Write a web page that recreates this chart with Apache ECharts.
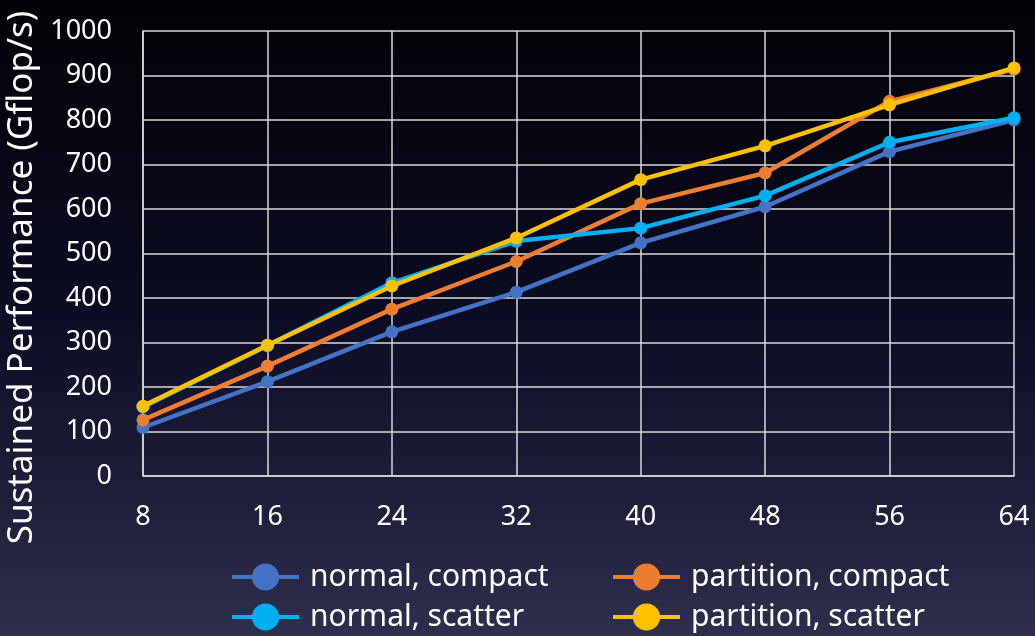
<!DOCTYPE html>
<html>
<head>
<meta charset="utf-8">
<script src="https://cdn.jsdelivr.net/npm/echarts@6/dist/echarts.min.js"></script>
<style>
html,body{margin:0;padding:0;width:1035px;height:636px;overflow:hidden;background:#000;}
#chart{width:1035px;height:636px;}
</style>
</head>
<body>
<div id="chart"></div>
<script>
const categories = ['8','16','24','32','40','48','56','64'];
const normalCompact    = [109, 212, 324, 413, 524, 605, 729, 800];
const partitionCompact = [126, 247, 375, 482, 612, 681, 842, 914];
const normalScatter    = [155, 293, 434, 528, 557, 630, 750, 805];
const partitionScatter = [157, 294, 427, 535, 666, 742, 834, 917];
const yTicks = [0, 1000, 100];

const names = ['normal, compact','partition, compact','normal, scatter','partition, scatter'];
const colors = ['#4472C4','#ED7D31','#00B0F0','#FFC000'];
const dataSets = [normalCompact, partitionCompact, normalScatter, partitionScatter];

const font = 'Noto Sans';
const chart = echarts.init(document.getElementById('chart'));

const legendPos = [
  {left: 225, top: 557},
  {left: 606, top: 557},
  {left: 225, top: 597},
  {left: 606, top: 597}
];

chart.setOption({
  backgroundColor: new echarts.graphic.LinearGradient(0, 0, 0, 1, [
    {offset: 0, color: '#020206'},
    {offset: 0.5, color: '#0c0c24'},
    {offset: 1, color: '#2e2e4e'}
  ]),
  animation: false,
  grid: {left: 143, right: 21, top: 31, bottom: 160, containLabel: false, outerBoundsMode: 'none'},
  legend: names.map((n, i) => ({
    data: [n],
    left: legendPos[i].left,
    top: legendPos[i].top,
    itemWidth: 67,
    itemHeight: 34,
    itemGap: 10,
    lineStyle: {width: 4},
    textStyle: {color: '#ffffff', fontSize: 30, fontFamily: font, padding: [0,0,0,6]},
  })),
  xAxis: {
    type: 'category',
    data: categories,
    boundaryGap: false,
    axisLine: {show: true, lineStyle: {color: '#d9d9d9', width: 1.5}},
    axisTick: {show: false},
    splitLine: {show: true, lineStyle: {color: '#d9d9d9', width: 1.5}},
    axisLabel: {color: '#ffffff', fontSize: 27, fontFamily: font, margin: 28}
  },
  yAxis: {
    type: 'value',
    min: yTicks[0], max: yTicks[1], interval: yTicks[2],
    name: 'Sustained Performance (Gflop/s)',
    nameLocation: 'middle',
    nameGap: 94,
    nameTextStyle: {color: '#ffffff', fontSize: 35, fontFamily: font, padding: [0, 48, 0, 0]},
    axisLine: {show: true, lineStyle: {color: '#d9d9d9', width: 1.5}},
    axisTick: {show: false},
    splitLine: {show: true, lineStyle: {color: '#d9d9d9', width: 1.5}},
    axisLabel: {color: '#ffffff', fontSize: 27, fontFamily: font, margin: 31,
      formatter: v => String(v)}
  },
  series: names.map((n, i) => ({
    name: n,
    type: 'line',
    data: dataSets[i],
    symbol: 'circle',
    symbolSize: 13,
    z: 2 + i,
    lineStyle: {color: colors[i], width: 4.5},
    itemStyle: {color: colors[i]}
  }))
});
</script>
</body>
</html>
